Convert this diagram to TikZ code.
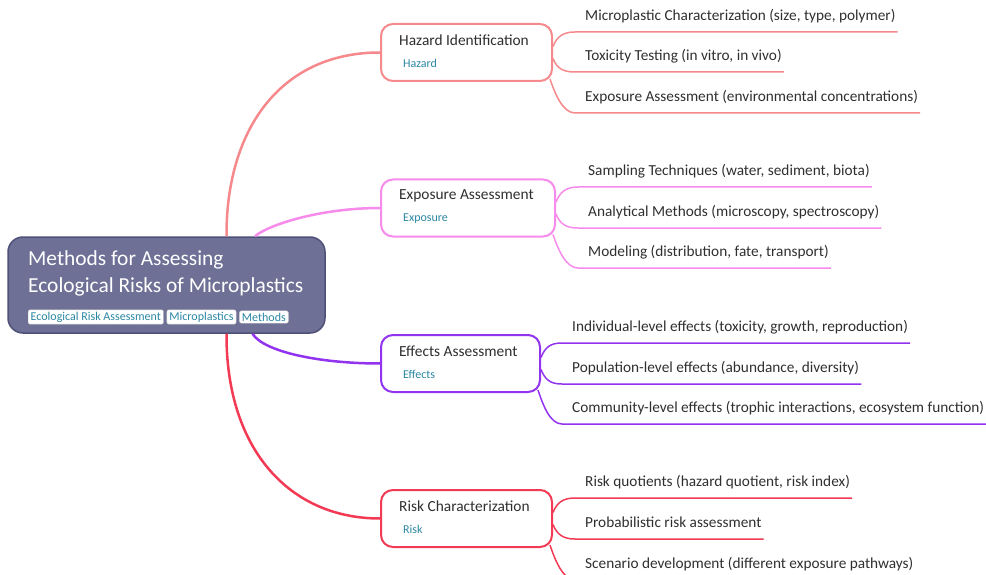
\documentclass[tikz,border=0pt]{standalone}
\usepackage{fontspec}
\setmainfont{Carlito}
\usetikzlibrary{calc,positioning}

\definecolor{hazc}{HTML}{F5898B}
\definecolor{expc}{HTML}{F78BEC}
\definecolor{effc}{HTML}{9233F0}
\definecolor{riskc}{HTML}{F23A55}
\definecolor{rootfill}{HTML}{6E7096}
\definecolor{rootline}{HTML}{4E5078}
\definecolor{tagtext}{HTML}{2B87A3}
\definecolor{leaftext}{HTML}{2F2F2F}

\tikzset{
  rootbox/.style={draw=rootline, fill=rootfill, line width=1.5pt, rounded corners=15pt,
    minimum width=317pt, minimum height=96pt, inner sep=0},
  roottitle/.style={text=white, font=\fontsize{21.4}{27}\selectfont, inner sep=0, anchor=base west},
  keytag/.style={draw=black!20, fill=white, rounded corners=2pt, text=tagtext,
    font=\fontsize{12}{14}\selectfont, inner xsep=2.5pt, inner ysep=2pt, anchor=west},
  branchbox/.style={draw=#1, fill=white, line width=2pt, rounded corners=12pt, minimum height=57pt, inner sep=0},
  branchtitle/.style={text=leaftext, font=\fontsize{15.4}{18}\selectfont, inner sep=0, anchor=west},
  branchtag/.style={text=tagtext, font=\fontsize{12}{14}\selectfont, inner sep=0, anchor=west},
  leaf/.style={text=leaftext, font=\fontsize{15.3}{18}\selectfont, anchor=south west,
    inner xsep=0, inner ysep=8pt, text depth=3pt},
  mainlink/.style={draw=#1, line width=2.5pt},
  leaflink/.style={draw=#1, line width=1.5pt},
}

\begin{document}
\begin{tikzpicture}[x=1pt,y=-1pt]
    \useasboundingbox (0,0) rectangle (986,575);

    % central topic
    \node[rootbox] (root) at (166.5,285) {};
    \node[roottitle] (title1) at (28,265.5) {Methods for Assessing};
    \node[roottitle] (title2) at (28,292) {Ecological Risks of Microplastics};
    \node[keytag] (tagera) at (28,317) {Ecological Risk Assessment};
    \node[keytag, right=3pt of tagera] (tagmp) {Microplastics};
    \node[keytag, right=3pt of tagmp] (tagmeth) {Methods};

    % main branches
    \node[branchbox=hazc, minimum width=171pt] (hazard) at (466.5,52.5) {};
    \node[branchtitle] (hazardt) at (399,40.5) {Hazard Identification};
    \node[branchtag] (hazardk) at (403,63.5) {Hazard};

    \node[branchbox=expc, minimum width=174pt] (expo) at (468,208) {};
    \node[branchtitle] (expot) at (399,196) {Exposure Assessment};
    \node[branchtag] (expok) at (403,219) {Exposure};

    \node[branchbox=effc, minimum width=159pt] (effects) at (460.5,363.5) {};
    \node[branchtitle] (effectst) at (399,351.5) {Effects Assessment};
    \node[branchtag] (effectsk) at (403,374.5) {Effects};

    \node[branchbox=riskc, minimum width=171pt] (risk) at (466.5,518.5) {};
    \node[branchtitle] (riskt) at (399,506.5) {Risk Characterization};
    \node[branchtag] (riskk) at (403,529.5) {Risk};

    \draw[mainlink=hazc] ($(root.north)+(60,0)$) .. controls (226,130) and (280,52.5) .. (hazard.west);
    \draw[mainlink=expc] ($(root.north)+(88.5,0)$) .. controls (268,225) and (320,208) .. (expo.west);
    \draw[mainlink=effc] ($(root.south)+(86,0)$) .. controls (264,352) and (320,363.5) .. (effects.west);
    \draw[mainlink=riskc] ($(root.south)+(60,0)$) .. controls (226,450) and (290,518.5) .. (risk.west);

    % leaves of hazard identification
    \node[leaf] (haz1) at (585,32) {Microplastic Characterization (size, type, polymer)};
    \node[leaf] (haz2) at (585,72) {Toxicity Testing (in vitro, in vivo)};
    \node[leaf] (haz3) at (585,113) {Exposure Assessment (environmental concentrations)};
    \draw[leaflink=hazc] ($(hazard.east)+(0,-6)$) .. controls +(4,-10) and +(-12,0) .. ($(haz1.south west)+(-10,0)$) -- ($(haz1.south east)+(2,0)$);
    \draw[leaflink=hazc] ($(hazard.east)+(0,6)$) .. controls +(4,10) and +(-12,0) .. ($(haz2.south west)+(-10,0)$) -- ($(haz2.south east)+(2,0)$);
    \draw[leaflink=hazc] ($(hazard.south east)+(-3,-3)$) .. controls +(5,15) and +(-12,0) .. ($(haz3.south west)+(-10,0)$) -- ($(haz3.south east)+(2,0)$);

    % leaves of exposure assessment
    \node[leaf] (exp1) at (588,187) {Sampling Techniques (water, sediment, biota)};
    \node[leaf] (exp2) at (588,228) {Analytical Methods (microscopy, spectroscopy)};
    \node[leaf] (exp3) at (588,268) {Modeling (distribution, fate, transport)};
    \draw[leaflink=expc] ($(expo.east)+(0,-6)$) .. controls +(4,-10) and +(-12,0) .. ($(exp1.south west)+(-10,0)$) -- ($(exp1.south east)+(2,0)$);
    \draw[leaflink=expc] ($(expo.east)+(0,6)$) .. controls +(4,10) and +(-12,0) .. ($(exp2.south west)+(-10,0)$) -- ($(exp2.south east)+(2,0)$);
    \draw[leaflink=expc] ($(expo.south east)+(-3,-3)$) .. controls +(5,15) and +(-12,0) .. ($(exp3.south west)+(-10,0)$) -- ($(exp3.south east)+(2,0)$);

    % leaves of effects assessment
    \node[leaf] (eff1) at (572,343) {Individual-level effects (toxicity, growth, reproduction)};
    \node[leaf] (eff2) at (572,384) {Population-level effects (abundance, diversity)};
    \node[leaf] (eff3) at (572,424) {Community-level effects (trophic interactions, ecosystem function)};
    \draw[leaflink=effc] ($(effects.east)+(0,-6)$) .. controls +(4,-10) and +(-12,0) .. ($(eff1.south west)+(-10,0)$) -- ($(eff1.south east)+(2,0)$);
    \draw[leaflink=effc] ($(effects.east)+(0,6)$) .. controls +(4,10) and +(-12,0) .. ($(eff2.south west)+(-10,0)$) -- ($(eff2.south east)+(2,0)$);
    \draw[leaflink=effc] ($(effects.south east)+(-3,-3)$) .. controls +(5,15) and +(-12,0) .. ($(eff3.south west)+(-10,0)$) -- ($(eff3.south east)+(2,0)$);

    % leaves of risk characterization
    \node[leaf] (risk1) at (585,498) {Risk quotients (hazard quotient, risk index)};
    \node[leaf] (risk2) at (585,539) {Probabilistic risk assessment};
    \node[leaf] (risk3) at (585,580) {Scenario development (different exposure pathways)};
    \draw[leaflink=riskc] ($(risk.east)+(0,-6)$) .. controls +(4,-10) and +(-12,0) .. ($(risk1.south west)+(-10,0)$) -- ($(risk1.south east)+(2,0)$);
    \draw[leaflink=riskc] ($(risk.east)+(0,6)$) .. controls +(4,10) and +(-12,0) .. ($(risk2.south west)+(-10,0)$) -- ($(risk2.south east)+(2,0)$);
    \draw[leaflink=riskc] ($(risk.south east)+(-3,-3)$) .. controls +(5,15) and +(-12,0) .. ($(risk3.south west)+(-10,0)$) -- ($(risk3.south east)+(2,0)$);
\end{tikzpicture}
\end{document}
